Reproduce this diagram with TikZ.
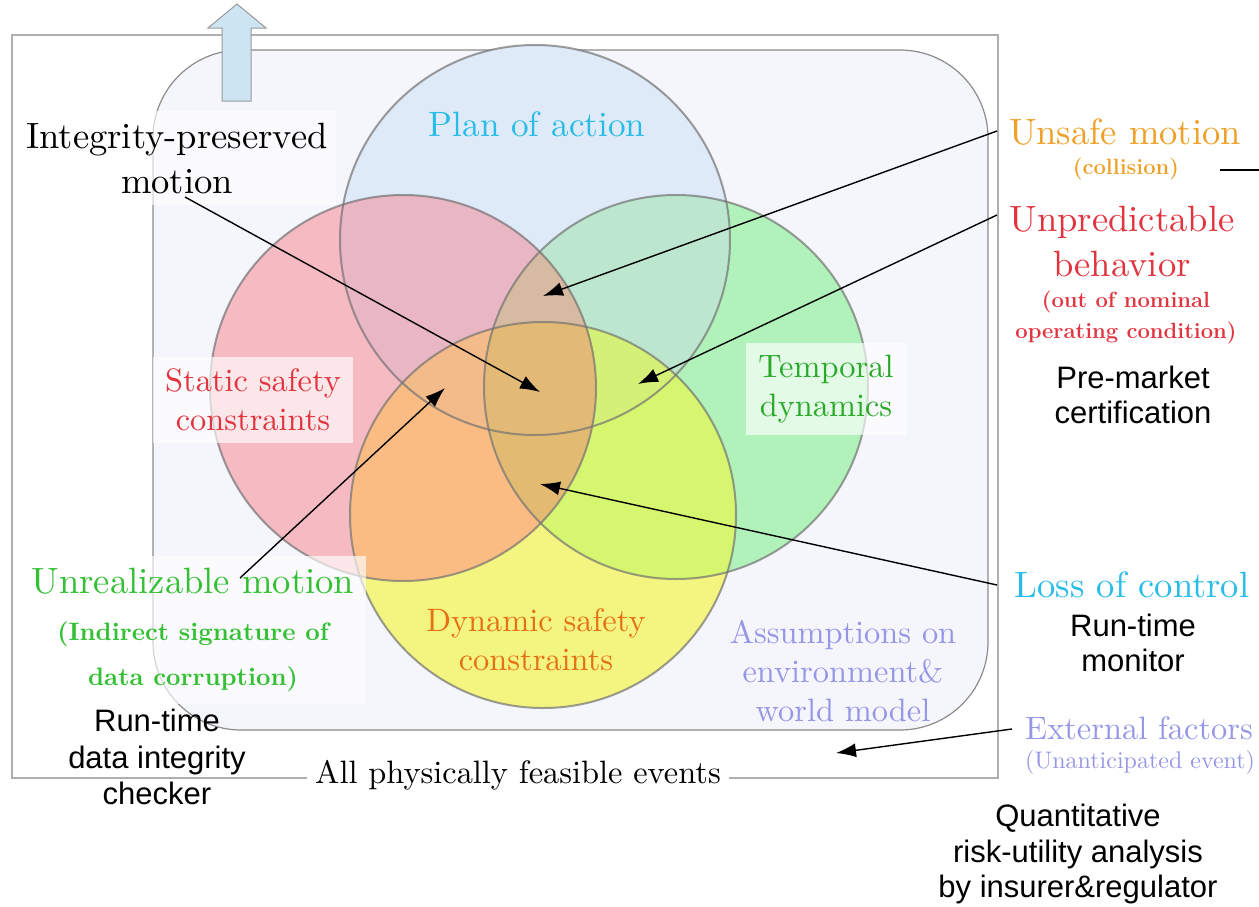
\documentclass[tikz,border=0pt]{standalone}
\usepackage{fontspec}
\newfontfamily\sansf{Liberation Sans}
\newfontfamily\lmten{lmroman10-regular}[Extension=.otf, BoldFont=lmroman10-bold]
\usetikzlibrary{arrows.meta}
\definecolor{cBs}{RGB}{222,234,247}
\definecolor{cRs}{RGB}{246,186,194}
\definecolor{cGs}{RGB}{176,242,186}
\definecolor{cYs}{RGB}{244,244,128}
\definecolor{cBR}{RGB}{233,182,196}
\definecolor{cBG}{RGB}{188,230,205}
\definecolor{cRY}{RGB}{250,188,130}
\definecolor{cGY}{RGB}{214,246,112}
\definecolor{cBY}{RGB}{230,215,150}
\definecolor{cRG}{RGB}{225,190,150}
\definecolor{cBRG}{RGB}{214,186,162}
\definecolor{cBRY}{RGB}{243,186,138}
\definecolor{cBGY}{RGB}{212,240,118}
\definecolor{cRGY}{RGB}{226,186,114}
\definecolor{cBRGY}{RGB}{226,186,118}
\definecolor{bgpanel}{RGB}{245,246,252}
\definecolor{framegray}{RGB}{175,175,175}
\definecolor{tcyan}{RGB}{40,188,232}
\definecolor{tred}{RGB}{226,52,62}
\definecolor{torange}{RGB}{238,160,40}
\definecolor{tgreen}{RGB}{40,170,40}
\definecolor{tgreenb}{RGB}{52,192,52}
\definecolor{tdyn}{RGB}{230,112,20}
\definecolor{tlav}{RGB}{150,150,230}
\definecolor{arrowblue}{RGB}{205,228,242}
\def\cB{(535,240) circle [radius=195]}
\def\cR{(403,388) circle [radius=193]}
\def\cG{(676,387) circle [radius=192]}
\def\cY{(543,515) circle [radius=193]}
\tikzset{
  big/.style={font=\lmten\fontsize{18.3}{22.5}\selectfont, align=center, inner sep=0pt},
  mid/.style={font=\lmten\fontsize{16.2}{19.6}\selectfont, align=center, inner sep=0pt},
  small/.style={font=\fontsize{11}{15.5}\selectfont\bfseries, align=center, inner sep=0pt},
  sans/.style={font=\sansf\fontsize{15.5}{17.5}\selectfont, align=center, inner sep=0pt},
  veil/.style={fill=white, fill opacity=0.65, text opacity=1},
  ptr/.style={-{Latex[length=10pt,width=7pt]}, line width=0.7pt, black},
  ring/.style={draw=black!55, draw opacity=0.7, line width=1pt}
}
\begin{document}
\begin{tikzpicture}[x=0.5pt,y=-0.5pt]
\useasboundingbox (0,0) rectangle (1259,906);
% outer frame
\draw[framegray, line width=1pt] (12,35) rectangle (998,778);
% panel
\draw[fill=bgpanel, draw=black!45, line width=0.6pt, rounded corners=44pt] (153,50) rectangle (988,730);
% circles solo
\fill[cBs] \cB; \fill[cRs] \cR; \fill[cGs] \cG; \fill[cYs] \cY;
% pairs
\begin{scope}\clip \cB; \fill[cBR] \cR; \fill[cBG] \cG; \fill[cBY] \cY; \end{scope}
\begin{scope}\clip \cR; \fill[cRY] \cY; \fill[cRG] \cG; \end{scope}
\begin{scope}\clip \cG; \fill[cGY] \cY; \end{scope}
% triples
\begin{scope}\clip \cB; \clip \cR; \fill[cBRG] \cG; \fill[cBRY] \cY; \end{scope}
\begin{scope}\clip \cB; \clip \cG; \fill[cBGY] \cY; \end{scope}
\begin{scope}\clip \cR; \clip \cG; \fill[cRGY] \cY; \end{scope}
\begin{scope}\clip \cB; \clip \cR; \clip \cG; \fill[cBRGY] \cY; \end{scope}
% outlines
\draw[ring] \cB; \draw[ring] \cR; \draw[ring] \cG; \draw[ring] \cY;
% block arrow
\draw[fill=arrowblue, draw=black!40, line width=0.5pt]
  (222,101) -- (222,28) -- (208,28) -- (237,4) -- (266,28) -- (251,28) -- (251,101) -- cycle;
% texts in diagram
\node[big, text=tcyan, font=\lmten\fontsize{17.6}{22.5}\selectfont] (plan) at (537,124) {Plan of action};
\node[big, veil, inner xsep=4pt, inner ysep=6pt] (integ) at (177,158) {Integrity-preserved\\motion};
\node[mid, veil, text=tred, inner xsep=6pt, inner ysep=6pt] (static) at (253,400) {Static safety\\constraints};
\node[mid, veil, text=tgreen, inner xsep=6pt, inner ysep=6pt] (temporal) at (826,389) {Temporal\\dynamics};
\node[mid, text=tdyn] (dynamic) at (536,640) {Dynamic safety\\constraints};
\node[mid, text=tlav] (assump) at (843,671) {Assumptions on\\environment\&\\world model};
\node[mid, fill=white, inner xsep=4pt, inner ysep=2pt] (allph) at (518,775) {All physically feasible events};
% left texts
\node[big, veil, text=tgreenb, inner xsep=6pt, inner ysep=6pt] (unreal) at (193,630)
  {Unrealizable motion\\[1pt]{\fontsize{12.6}{18}\selectfont\bfseries (Indirect signature of}\\{\fontsize{12.6}{18}\selectfont\bfseries data corruption)}};
\node[sans, font=\sansf\fontsize{15.5}{18.25}\selectfont] (rtdic) at (157,757) {Run-time\\data integrity\\checker};
% right texts
\node[big, text=torange] (unsafe) at (1125,132) {Unsafe motion};
\node[small, text=torange] (coll) at (1126,169) {(collision)};
\node[big, text=tred] (unpred) at (1122,241) {Unpredictable\\behavior};
\node[small, text=tred] (outof) at (1126,318) {(out of nominal\\operating condition)};
\node[sans] (premk) at (1133,395) {Pre-market\\certification};
\node[big, text=tcyan] (loss) at (1132,585) {Loss of control};
\node[sans] (rtmon) at (1133,643) {Run-time\\monitor};
\node[mid, text=tlav] (ext) at (1139,728) {External factors};
\node[font=\lmten\fontsize{12}{14}\selectfont, text=tlav, inner sep=0pt] (unant) at (1140,762) {(Unanticipated event)};
\node[sans, font=\sansf\fontsize{15.5}{17.75}\selectfont] (quant) at (1078,854) {Quantitative\\risk-utility analysis\\by insurer\&regulator};
% arrow endpoints
\coordinate (sInteg) at (185,197);
\coordinate (tInteg) at (540,392);
\coordinate (sUnsafe) at (997,131);
\coordinate (tUnsafe) at (543,296);
\coordinate (sUnpred) at (997,215);
\coordinate (tUnpred) at (638,384);
\coordinate (sLoss) at (997,585);
\coordinate (tLoss) at (540,484);
\coordinate (sUnreal) at (240,578);
\coordinate (tUnreal) at (445,388);
\coordinate (sExt) at (1012,729);
\coordinate (tExt) at (836,753);
\coordinate (lA) at (1220,170);
\coordinate (lB) at (1259,170);
\draw[ptr] (sInteg) -- (tInteg);
\draw[ptr] (sUnsafe) -- (tUnsafe);
\draw[ptr] (sUnpred) -- (tUnpred);
\draw[ptr] (sLoss) -- (tLoss);
\draw[ptr] (sUnreal) -- (tUnreal);
\draw[ptr] (sExt) -- (tExt);
\draw[line width=0.7pt] (lA) -- (lB);
\end{tikzpicture}
\end{document}
